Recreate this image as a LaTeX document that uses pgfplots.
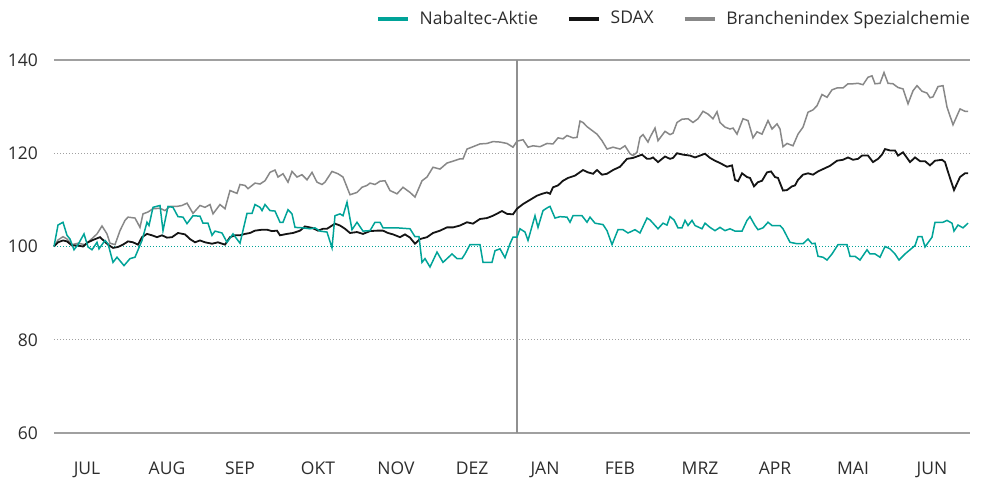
\documentclass[border=0pt]{standalone}
\usepackage{fontspec}
\setmainfont{Open Sans}
\usepackage{pgfplots}
\pgfplotsset{compat=1.18}
\definecolor{nabteal}{RGB}{0,163,152}
\definecolor{sdax}{RGB}{20,20,20}
\definecolor{branche}{RGB}{136,136,136}
\definecolor{gridgray}{RGB}{160,160,160}
\definecolor{labgray}{RGB}{45,45,45}
\begin{document}
\fontsize{17.5}{21}\selectfont
\begin{tikzpicture}
\useasboundingbox (0,0) rectangle (984pt,479pt);
\begin{axis}[
 anchor=south west, at={(54pt,46pt)},
 scale only axis, width=916pt, height=373pt,
 xmin=54, xmax=970, ymin=60, ymax=140,
 axis line style={draw=none},
 ytick={60,80,100,120,140},
 xtick={87,167,240,318,396,472,545,620,700,775,853,932},
 xticklabels={JUL,AUG,SEP,OKT,NOV,DEZ,JAN,FEB,MRZ,APR,MAI,JUN},
 major tick length=0pt,
 tick label style={font=\fontsize{17.5}{21}\selectfont, text=labgray},
 /pgf/number format/assume math mode=true,
 yticklabel style={xshift=-10pt},
 xticklabel style={yshift=-23pt},
 clip=false,
 legend columns=3,
 legend style={draw=none, fill=none, at={(axis description cs:1,1.11)}, anchor=east,
   inner sep=0pt, font=\fontsize{17.5}{21}\selectfont, text=labgray,
   nodes={inner sep=0pt},
   /tikz/every odd column/.append style={column sep=10pt},
   /tikz/every even column/.append style={column sep=29pt}},
 legend image code/.code={\draw[#1, line width=3.5pt] (0pt,0pt) -- (30pt,0pt);},
]
\draw[gridgray, line width=1.4pt] (axis cs:54,140) -- (axis cs:970,140);
\draw[gridgray, line width=1.4pt] (axis cs:54,60) -- (axis cs:970,60);
\draw[gridgray, line width=0.9pt, dash pattern=on 1pt off 2pt] (axis cs:54,120) -- (axis cs:970,120);
\draw[gridgray, line width=0.9pt, dash pattern=on 1pt off 2pt] (axis cs:54,80) -- (axis cs:970,80);
\draw[nabteal, line width=0.9pt, dash pattern=on 1pt off 2pt] (axis cs:54,100) -- (axis cs:970,100);
\draw[gridgray!90!black, line width=1.4pt] (axis cs:517,60) -- (axis cs:517,140);

\addplot[branche, line width=1.5pt, forget plot] coordinates {
(54,100) (58,101.4) (63,102.1) (67,101.6) (72,100.4) (78,100.7) (85,100.4) (90,101.3) (97,102.7) (102,104.4) (107,102.7) (110,100.7) (115,100.4) (120,103.4) (125,105.6) (128,106.3) (135,106.1) (140,104.1) (143,107.0) (148,107.4) (153,108.1) (160,108.2) (165,107.7) (170,108.6) (177,108.6) (182,108.8) (187,109.3) (193,107.1) (200,108.8) (205,108.4) (210,109.0) (213,107.0) (220,109.0) (225,108.1) (230,112.0) (237,111.4) (240,113.3) (245,113.1) (248,112.4) (255,113.6) (260,113.4) (265,114.1) (270,115.9) (275,116.4) (278,114.9) (283,115.6) (288,113.8) (292,116.1) (297,114.9) (302,115.4) (307,114.3) (312,115.9) (317,113.8) (322,113.3) (325,113.8) (332,116.1) (338,115.6) (343,114.9) (350,111.1) (357,111.6) (362,112.7) (367,113.1) (370,113.6) (375,113.3) (380,114.0) (385,114.1) (390,112.0) (397,111.3) (403,112.7) (410,111.6) (415,110.6) (422,114.1) (427,114.9) (433,117.0) (440,116.6) (447,117.9) (453,118.3) (460,118.8) (463,118.8) (467,120.9) (473,121.4) (480,122.0) (487,122.1) (493,122.5) (500,122.4) (507,122.1) (513,121.3) (517,122.6) (523,122.9) (528,121.3) (533,121.6) (540,121.4) (547,122.1) (553,122.0) (558,123.3) (563,123.1) (567,123.8) (573,123.3) (577,123.4) (580,126.9) (583,126.6) (587,125.7) (592,124.9) (597,124.1) (602,122.7) (607,120.9) (613,121.3) (620,120.9) (625,121.6) (630,119.9) (633,119.5) (637,120.2) (640,123.4) (643,124.0) (648,122.4) (650,123.4) (655,125.4) (658,122.7) (665,124.7) (670,124.0) (673,124.3) (677,126.6) (682,127.3) (688,127.4) (693,126.6) (698,127.4) (703,129.0) (708,128.4) (713,127.4) (717,128.9) (720,126.6) (725,125.6) (730,125.2) (733,125.4) (737,124.1) (743,127.4) (748,127.0) (753,123.3) (757,124.6) (762,124.1) (768,127.0) (772,125.2) (777,126.3) (780,125.2) (783,121.4) (787,122.1) (793,121.6) (798,124.1) (803,125.6) (808,128.8) (813,129.3) (817,130.2) (822,132.6) (827,132.0) (832,133.6) (837,134.0) (843,134.0) (848,134.9) (853,134.9) (858,135.0) (863,134.7) (868,136.3) (872,136.6) (875,134.9) (880,135.0) (884,137.3) (888,135.0) (893,134.9) (898,134.1) (903,133.8) (908,130.6) (913,133.4) (917,134.5) (922,133.3) (927,132.9) (930,131.9) (933,132.1) (938,134.3) (943,134.5) (947,129.9) (953,126.1) (960,129.5) (965,129.0) (968,129.0)
};
\addplot[sdax, line width=1.8pt, forget plot] coordinates {
(54,100) (58,100.9) (63,101.3) (67,101.1) (72,100.2) (78,100.2) (83,100.0) (88,100.9) (93,101.4) (100,102.0) (103,101.4) (108,100.4) (113,99.7) (118,99.9) (123,100.4) (128,101.1) (133,100.9) (138,100.4) (142,102.0) (147,102.7) (152,102.4) (157,102.0) (162,102.4) (167,101.9) (172,102.0) (178,102.9) (185,102.6) (190,101.6) (195,100.9) (200,101.3) (205,100.9) (212,100.6) (218,100.9) (225,100.4) (230,102.0) (235,102.4) (240,102.4) (245,102.7) (250,102.9) (255,103.4) (262,103.6) (267,103.6) (272,103.3) (277,103.4) (280,102.4) (287,102.7) (293,102.9) (300,103.4) (305,104.3) (312,104.0) (318,103.4) (323,103.8) (327,103.8) (335,104.9) (340,104.5) (345,103.8) (350,102.9) (357,103.1) (363,102.7) (370,103.3) (377,103.4) (383,103.4) (388,102.9) (393,102.6) (400,102.0) (405,102.6) (410,101.9) (415,100.6) (420,101.6) (427,102.0) (433,102.9) (440,103.4) (447,104.1) (453,104.1) (460,104.5) (467,105.2) (473,104.9) (480,105.9) (487,106.1) (493,106.6) (502,107.6) (507,107.0) (513,106.9) (517,108.1) (523,109.1) (530,110.0) (537,110.9) (542,111.3) (547,111.6) (550,111.3) (553,112.7) (558,113.1) (563,114.1) (568,114.7) (575,115.2) (583,116.4) (588,115.9) (593,115.6) (597,116.4) (602,115.4) (607,115.6) (613,116.4) (620,117.1) (627,118.8) (633,119.0) (642,119.7) (647,118.8) (650,118.8) (653,119.1) (658,118.1) (665,119.3) (670,118.8) (673,119.0) (677,120.0) (683,119.7) (690,119.5) (695,119.1) (700,119.5) (705,119.9) (710,119.0) (715,118.4) (720,117.9) (727,117.1) (732,117.4) (735,114.3) (738,114.0) (742,115.7) (747,114.9) (750,114.7) (754,112.9) (758,113.8) (762,114.1) (767,115.9) (771,116.1) (775,114.9) (778,114.7) (783,112.0) (787,112.1) (792,112.9) (795,113.1) (798,114.3) (803,115.4) (808,115.7) (813,115.4) (818,116.1) (823,116.6) (830,117.3) (837,118.4) (843,118.6) (848,119.1) (853,118.6) (858,118.8) (862,119.5) (868,119.5) (873,118.1) (878,118.8) (882,119.7) (885,120.9) (890,120.6) (895,120.6) (898,119.5) (903,120.2) (910,118.1) (915,119.1) (920,118.3) (925,118.3) (930,117.4) (935,118.4) (942,118.6) (945,118.1) (948,116.0) (954,112.1) (960,114.9) (965,115.7) (968,115.7)
};
\addplot[nabteal, line width=1.5pt, forget plot] coordinates {
(54,100) (58,104.6) (63,105.2) (67,102.4) (70,101.6) (74,99.3) (78,100.4) (84,102.7) (88,99.9) (92,99.3) (97,100.9) (99,99.5) (105,101.3) (108,100.6) (113,96.6) (117,97.7) (124,95.9) (130,97.4) (135,97.7) (142,101.3) (147,105.2) (149,104.5) (153,108.4) (160,108.8) (163,103.4) (168,108.6) (173,108.4) (178,106.4) (183,106.3) (187,104.9) (193,106.6) (200,106.5) (203,105.0) (208,105.0) (212,102.4) (215,103.3) (222,102.9) (227,100.9) (233,102.7) (240,100.7) (247,107.1) (252,107.1) (255,109.0) (260,108.4) (262,107.7) (265,109.0) (270,107.7) (275,107.6) (280,105.2) (283,105.2) (288,107.9) (292,107.0) (295,104.1) (303,104.0) (310,103.8) (315,104.0) (320,103.3) (327,103.1) (332,99.7) (335,106.6) (340,107.0) (343,106.6) (347,109.5) (352,103.6) (357,105.2) (363,103.3) (370,103.4) (375,105.2) (380,105.2) (383,104.0) (397,104.0) (410,103.8) (415,102.1) (419,102.1) (422,96.6) (425,97.4) (430,95.6) (437,98.8) (443,96.6) (452,98.4) (457,97.4) (462,97.4) (465,98.4) (470,100.4) (480,100.4) (483,96.6) (492,96.6) (495,99.1) (500,99.5) (505,97.6) (510,100.6) (513,102.0) (517,102.0) (520,103.8) (525,103.1) (528,101.3) (535,106.6) (538,104.1) (543,107.7) (548,108.4) (550,108.6) (555,106.1) (560,106.4) (567,106.3) (570,105.2) (573,106.6) (582,106.6) (587,105.2) (590,106.3) (595,105.0) (603,104.7) (607,103.4) (612,100.4) (618,103.6) (623,103.6) (628,102.9) (635,103.6) (640,102.9) (647,106.1) (650,105.7) (653,105.0) (658,103.8) (663,105.0) (667,104.6) (670,106.4) (674,105.7) (678,104.0) (682,104.0) (685,105.6) (688,104.5) (692,105.6) (695,104.5) (702,103.8) (705,105.0) (710,104.1) (715,103.4) (720,104.1) (725,103.4) (730,103.8) (735,103.3) (742,103.3) (747,105.6) (750,106.4) (755,104.5) (758,103.6) (763,104.0) (768,105.2) (772,104.5) (780,104.5) (783,103.8) (790,100.9) (797,100.6) (803,100.6) (808,101.6) (812,100.6) (815,100.7) (818,97.9) (823,97.7) (827,97.1) (832,98.4) (838,100.4) (847,100.4) (850,97.9) (855,97.9) (860,97.1) (867,99.3) (870,98.4) (875,98.4) (880,97.7) (885,100.0) (890,99.5) (895,98.4) (899,97.1) (905,98.4) (910,99.3) (915,100.2) (918,102.1) (922,102.1) (925,99.9) (932,102.0) (935,105.2) (943,105.2) (947,105.6) (952,105.0) (954,103.3) (958,104.6) (963,104.0) (968,105.0)
};
\addlegendimage{nabteal}
\addlegendentry{Nabaltec-Aktie}
\addlegendimage{sdax}
\addlegendentry{SDAX}
\addlegendimage{branche}
\addlegendentry{Branchenindex Spezialchemie}
\end{axis}
\end{tikzpicture}
\end{document}
